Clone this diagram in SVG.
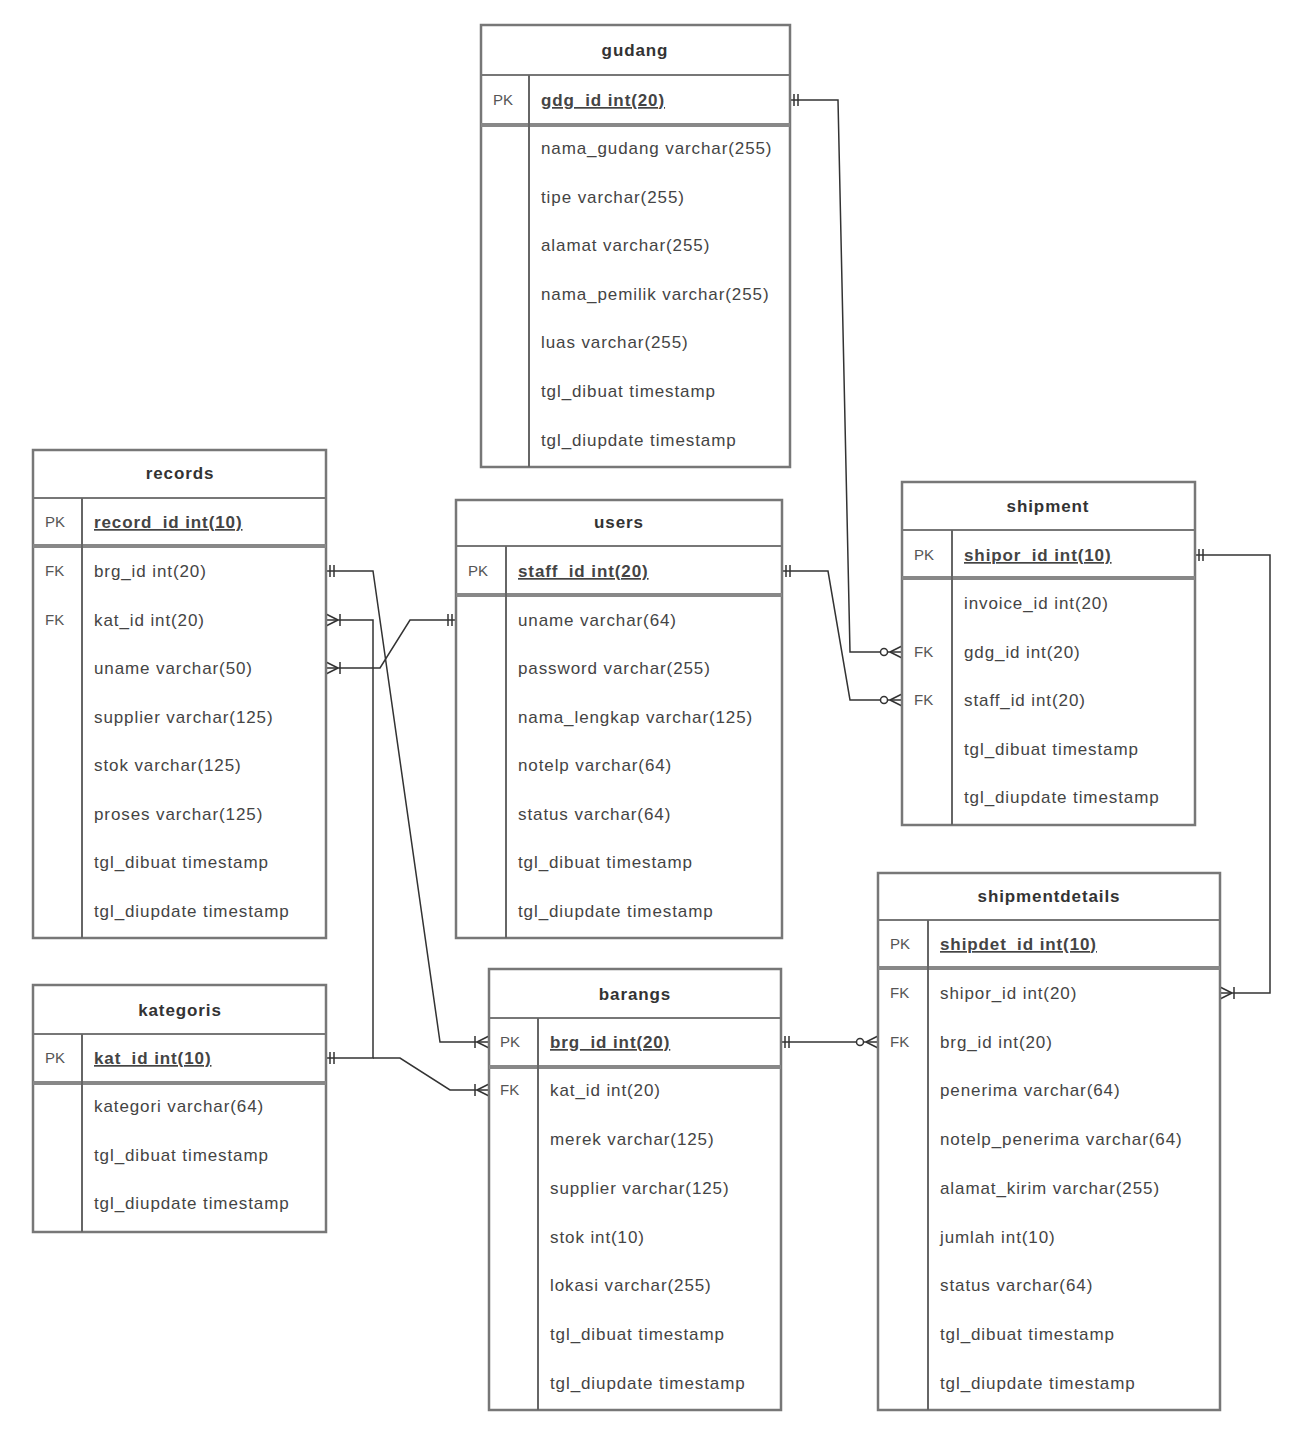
<svg xmlns="http://www.w3.org/2000/svg" width="1301" height="1433" viewBox="0 0 1301 1433">
<style>
.box{fill:#fff;stroke:#777;stroke-width:2.5}
.sep{stroke:#777;stroke-width:2;fill:none}
.sep2{stroke:#888;stroke-width:4;fill:none}
.div{stroke:#666;stroke-width:2}
.t{font-family:"Liberation Sans",Arial,sans-serif;font-size:17px;letter-spacing:0.9px;fill:#444}
.h{font-family:"Liberation Sans",Arial,sans-serif;font-size:17px;letter-spacing:0.9px;fill:#333;text-anchor:middle;font-weight:bold}
.k{font-family:"Liberation Sans",Arial,sans-serif;font-size:15px;fill:#555}
.pk{text-decoration:underline;font-weight:bold}
.c{fill:none;stroke:#333;stroke-width:1.5}
</style>
<defs>
<marker id="one" markerUnits="userSpaceOnUse" markerWidth="22" markerHeight="20" viewBox="0 0 22 20" refX="20" refY="10" orient="auto-start-reverse">
<path d="M12 4V16M16 4V16" stroke="#333" stroke-width="1.5" fill="none"/>
</marker>
<marker id="many" markerUnits="userSpaceOnUse" markerWidth="22" markerHeight="20" viewBox="0 0 22 20" refX="20" refY="10" orient="auto-start-reverse">
<path d="M8 10L20 4M8 10L20 16M6 4V16" stroke="#333" stroke-width="1.5" fill="none"/>
</marker>
<marker id="zmany" markerUnits="userSpaceOnUse" markerWidth="26" markerHeight="20" viewBox="0 0 26 20" refX="25" refY="10" orient="auto-start-reverse">
<circle cx="7" cy="10" r="3.5" fill="#fff" stroke="#333" stroke-width="1.5"/>
<path d="M13 10L25 4M13 10L25 16" stroke="#333" stroke-width="1.5" fill="none"/>
</marker>
</defs>
<rect width="1301" height="1433" fill="#fff"/>

<g id="connectors">
<path class="c" d="M790 100L838 100L850 652L902 652" marker-start="url(#one)" marker-end="url(#zmany)"/>
<path class="c" d="M782 571L828 571L850 700L902 700" marker-start="url(#one)" marker-end="url(#zmany)"/>
<path class="c" d="M1195 555L1270 555L1270 993L1220 993" marker-start="url(#one)" marker-end="url(#many)"/>
<path class="c" d="M781 1042L878 1042" marker-start="url(#one)" marker-end="url(#zmany)"/>
<path class="c" d="M326 571L373 571L440 1042L489 1042" marker-start="url(#one)" marker-end="url(#many)"/>
<path class="c" d="M326 620L373 620L373 1058L326 1058" marker-start="url(#many)" marker-end="url(#one)"/>
<path class="c" d="M326 668L380 668L410 620L456 620" marker-start="url(#many)" marker-end="url(#one)"/>
<path class="c" d="M373 1058L400 1058L450 1090L489 1090" marker-end="url(#many)"/>
</g>

<g id="gudang">
<rect class="box" x="481" y="25" width="309" height="442"/>
<line class="sep" x1="481" y1="75" x2="790" y2="75"/>
<line class="sep2" x1="481" y1="125" x2="790" y2="125"/>
<line class="div" x1="529" y1="75" x2="529" y2="467"/>
<text class="h" x="635" y="56">gudang</text>
<text class="k" x="493" y="105">PK</text>
<text class="t pk" x="541" y="106">gdg_id int(20)</text>
<text class="t" x="541" y="154">nama_gudang varchar(255)</text>
<text class="t" x="541" y="203">tipe varchar(255)</text>
<text class="t" x="541" y="251">alamat varchar(255)</text>
<text class="t" x="541" y="300">nama_pemilik varchar(255)</text>
<text class="t" x="541" y="348">luas varchar(255)</text>
<text class="t" x="541" y="397">tgl_dibuat timestamp</text>
<text class="t" x="541" y="446">tgl_diupdate timestamp</text>
</g>

<g id="records">
<rect class="box" x="33" y="450" width="293" height="488"/>
<line class="sep" x1="33" y1="498" x2="326" y2="498"/>
<line class="sep2" x1="33" y1="546" x2="326" y2="546"/>
<line class="div" x1="82" y1="498" x2="82" y2="938"/>
<text class="h" x="180" y="479">records</text>
<text class="k" x="45" y="527">PK</text>
<text class="t pk" x="94" y="528">record_id int(10)</text>
<text class="k" x="45" y="576">FK</text>
<text class="t" x="94" y="577">brg_id int(20)</text>
<text class="k" x="45" y="625">FK</text>
<text class="t" x="94" y="626">kat_id int(20)</text>
<text class="t" x="94" y="674">uname varchar(50)</text>
<text class="t" x="94" y="723">supplier varchar(125)</text>
<text class="t" x="94" y="771">stok varchar(125)</text>
<text class="t" x="94" y="820">proses varchar(125)</text>
<text class="t" x="94" y="868">tgl_dibuat timestamp</text>
<text class="t" x="94" y="917">tgl_diupdate timestamp</text>
</g>

<g id="users">
<rect class="box" x="456" y="500" width="326" height="438"/>
<line class="sep" x1="456" y1="546" x2="782" y2="546"/>
<line class="sep2" x1="456" y1="595" x2="782" y2="595"/>
<line class="div" x1="506" y1="546" x2="506" y2="938"/>
<text class="h" x="619" y="528">users</text>
<text class="k" x="468" y="576">PK</text>
<text class="t pk" x="518" y="577">staff_id int(20)</text>
<text class="t" x="518" y="626">uname varchar(64)</text>
<text class="t" x="518" y="674">password varchar(255)</text>
<text class="t" x="518" y="723">nama_lengkap varchar(125)</text>
<text class="t" x="518" y="771">notelp varchar(64)</text>
<text class="t" x="518" y="820">status varchar(64)</text>
<text class="t" x="518" y="868">tgl_dibuat timestamp</text>
<text class="t" x="518" y="917">tgl_diupdate timestamp</text>
</g>

<g id="shipment">
<rect class="box" x="902" y="482" width="293" height="343"/>
<line class="sep" x1="902" y1="530" x2="1195" y2="530"/>
<line class="sep2" x1="902" y1="578" x2="1195" y2="578"/>
<line class="div" x1="952" y1="530" x2="952" y2="825"/>
<text class="h" x="1048" y="512">shipment</text>
<text class="k" x="914" y="560">PK</text>
<text class="t pk" x="964" y="561">shipor_id int(10)</text>
<text class="t" x="964" y="609">invoice_id int(20)</text>
<text class="k" x="914" y="657">FK</text>
<text class="t" x="964" y="658">gdg_id int(20)</text>
<text class="k" x="914" y="705">FK</text>
<text class="t" x="964" y="706">staff_id int(20)</text>
<text class="t" x="964" y="755">tgl_dibuat timestamp</text>
<text class="t" x="964" y="803">tgl_diupdate timestamp</text>
</g>

<g id="shipmentdetails">
<rect class="box" x="878" y="873" width="342" height="537"/>
<line class="sep" x1="878" y1="920" x2="1220" y2="920"/>
<line class="sep2" x1="878" y1="968" x2="1220" y2="968"/>
<line class="div" x1="928" y1="920" x2="928" y2="1410"/>
<text class="h" x="1049" y="902">shipmentdetails</text>
<text class="k" x="890" y="949">PK</text>
<text class="t pk" x="940" y="950">shipdet_id int(10)</text>
<text class="k" x="890" y="998">FK</text>
<text class="t" x="940" y="999">shipor_id int(20)</text>
<text class="k" x="890" y="1047">FK</text>
<text class="t" x="940" y="1048">brg_id int(20)</text>
<text class="t" x="940" y="1096">penerima varchar(64)</text>
<text class="t" x="940" y="1145">notelp_penerima varchar(64)</text>
<text class="t" x="940" y="1194">alamat_kirim varchar(255)</text>
<text class="t" x="940" y="1243">jumlah int(10)</text>
<text class="t" x="940" y="1291">status varchar(64)</text>
<text class="t" x="940" y="1340">tgl_dibuat timestamp</text>
<text class="t" x="940" y="1389">tgl_diupdate timestamp</text>
</g>

<g id="barangs">
<rect class="box" x="489" y="969" width="292" height="441"/>
<line class="sep" x1="489" y1="1018" x2="781" y2="1018"/>
<line class="sep2" x1="489" y1="1067" x2="781" y2="1067"/>
<line class="div" x1="538" y1="1018" x2="538" y2="1410"/>
<text class="h" x="635" y="1000">barangs</text>
<text class="k" x="500" y="1047">PK</text>
<text class="t pk" x="550" y="1048">brg_id int(20)</text>
<text class="k" x="500" y="1095">FK</text>
<text class="t" x="550" y="1096">kat_id int(20)</text>
<text class="t" x="550" y="1145">merek varchar(125)</text>
<text class="t" x="550" y="1194">supplier varchar(125)</text>
<text class="t" x="550" y="1243">stok int(10)</text>
<text class="t" x="550" y="1291">lokasi varchar(255)</text>
<text class="t" x="550" y="1340">tgl_dibuat timestamp</text>
<text class="t" x="550" y="1389">tgl_diupdate timestamp</text>
</g>

<g id="kategoris">
<rect class="box" x="33" y="985" width="293" height="247"/>
<line class="sep" x1="33" y1="1034" x2="326" y2="1034"/>
<line class="sep2" x1="33" y1="1083" x2="326" y2="1083"/>
<line class="div" x1="82" y1="1034" x2="82" y2="1232"/>
<text class="h" x="180" y="1016">kategoris</text>
<text class="k" x="45" y="1063">PK</text>
<text class="t pk" x="94" y="1064">kat_id int(10)</text>
<text class="t" x="94" y="1112">kategori varchar(64)</text>
<text class="t" x="94" y="1161">tgl_dibuat timestamp</text>
<text class="t" x="94" y="1209">tgl_diupdate timestamp</text>
</g>
</svg>
